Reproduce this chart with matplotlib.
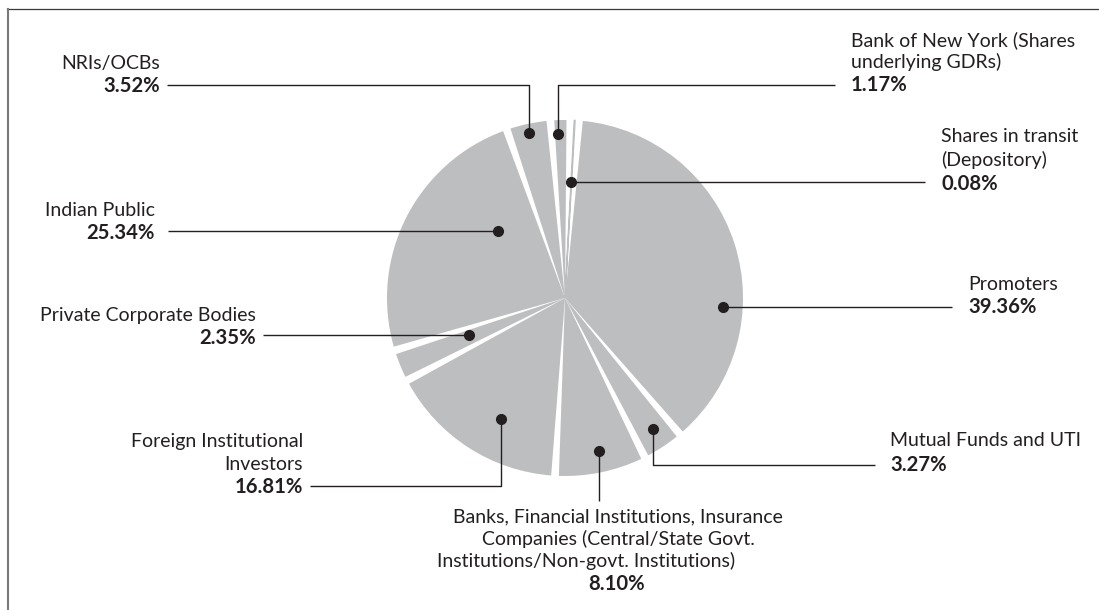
import math
import matplotlib
matplotlib.use("Agg")
import matplotlib.pyplot as plt

# ---------------- data ----------------
categories = [
    "Promoters",
    "Mutual Funds and UTI",
    "Banks, Financial Institutions, Insurance Companies (Central/State Govt. Institutions/Non-govt. Institutions)",
    "Foreign Institutional Investors",
    "Private Corporate Bodies",
    "Indian Public",
    "NRIs/OCBs",
    "Bank of New York (Shares underlying GDRs)",
    "Shares in transit (Depository)",
]
shares = [39.36, 3.27, 8.10, 16.81, 2.35, 25.34, 3.52, 1.17, 0.08]
label_lines = [
    ["Promoters"],
    ["Mutual Funds and UTI"],
    ["Banks, Financial Institutions, Insurance",
     "Companies (Central/State Govt.",
     "Institutions/Non-govt. Institutions)"],
    ["Foreign Institutional", "Investors"],
    ["Private Corporate Bodies"],
    ["Indian Public"],
    ["NRIs/OCBs"],
    ["Bank of New York (Shares", "underlying GDRs)"],
    ["Shares in transit", "(Depository)"],
]
pct_labels = ["39.36%", "3.27%", "8.10%", "16.81%", "2.35%",
              "25.34%", "3.52%", "1.17%", "0.08%"]

# ---------------- layout / style ----------------
W, H = 1099, 610
CX, CY, R = 565, 298, 178          # pie centre / radius (image px)
GAP = 0.74                          # white gap between slices (in % units)
GREY = "#bcbec0"
INK = "#231f20"
FONT = "Lato"
FS = 14.0
FSB = 14.6

# dot position inside each wedge: (fraction along wedge clockwise, radius fraction)
dot_pos = [(0.66, 0.89), (0.44, 0.885), (0.47, 0.88), (0.41, 0.77), (0.67, 0.58),
           (0.71, 0.53), (0.47, 0.95), (0.30, 0.92), (0.5, 0.65)]
# leader shapes (image px)
leaders = [("h", 952), ("vh", 465, 875), ("v", 501), ("vh", 486, 310), ("h", 263),
           ("h", 168), ("vh", 85, 167), ("vh", 85, 835), ("h", 925)]
# text: (ha, [(x, y) per name line], (x, y) for percentage)
text_pos = [
    ("left", [(968, 284)], (968, 307)),
    ("left", [(890, 441)], (890, 465)),
    ("center", [(618, 517), (618, 539), (586, 561)], (617, 584)),
    ("right", [(303, 442), (303, 464)], (303, 487)),
    ("right", [(256, 315)], (256, 338)),
    ("right", [(155, 210)], (155, 233)),
    ("right", [(160, 63)], (160, 86)),
    ("left", [(851, 40), (851, 62)], (851, 85)),
    ("left", [(941, 136), (941, 160)], (941, 184)),
]


def Y(y):
    return H - y


fig = plt.figure(figsize=(W / 100, H / 100), dpi=100)
ax = fig.add_axes([0, 0, 1, 1])

vals, cols = [], []
for s in shares:
    vals += [s, GAP]
    cols += [GREY, "white"]

wedges, _ = ax.pie(vals, colors=cols, startangle=84.25, counterclock=False,
                   center=(CX, Y(CY)), radius=R, frame=True,
                   wedgeprops=dict(linewidth=0))
for i, w in enumerate(wedges):
    if i % 2 == 1:
        w.set_visible(False)
# make the tiny sliver visible like the original
wedges[2 * 8].set_edgecolor(GREY)
wedges[2 * 8].set_linewidth(1.0)

for i in range(len(shares)):
    w = wedges[2 * i]
    f, rf = dot_pos[i]
    ang = math.radians(w.theta2 - f * (w.theta2 - w.theta1))
    dx = CX + rf * R * math.cos(ang)
    dy = Y(CY) + rf * R * math.sin(ang)
    ld = leaders[i]
    if ld[0] == "h":
        xs, ys = [dx, ld[1]], [dy, dy]
    elif ld[0] == "v":
        xs, ys = [dx, dx], [dy, Y(ld[1])]
    else:
        xs, ys = [dx, dx, ld[2]], [dy, Y(ld[1]), Y(ld[1])]
    ax.plot(xs, ys, color=INK, lw=1.0, solid_capstyle="butt", zorder=3)
    ax.plot([dx], [dy], "o", color=INK, ms=7.0, zorder=4)

    ha, lines, pct = text_pos[i]
    for (tx, ty), s in zip(lines, label_lines[i]):
        ax.text(tx, Y(ty), s, ha=ha, va="center", fontsize=FS, family=FONT, color=INK)
    ax.text(pct[0], Y(pct[1]), pct_labels[i], ha=ha, va="center", fontsize=FSB,
            family=FONT, weight="bold", color=INK)

# frame lines
ax.plot([7, W], [Y(9), Y(9)], color="#3a3a3a", lw=0.9)
ax.plot([7.5, 7.5], [Y(9), 0], color="#7a7a7a", lw=1.5)

ax.set_xlim(0, W)
ax.set_ylim(0, H)
ax.set_aspect("equal")
ax.axis("off")
fig.savefig("out.png", dpi=100)
